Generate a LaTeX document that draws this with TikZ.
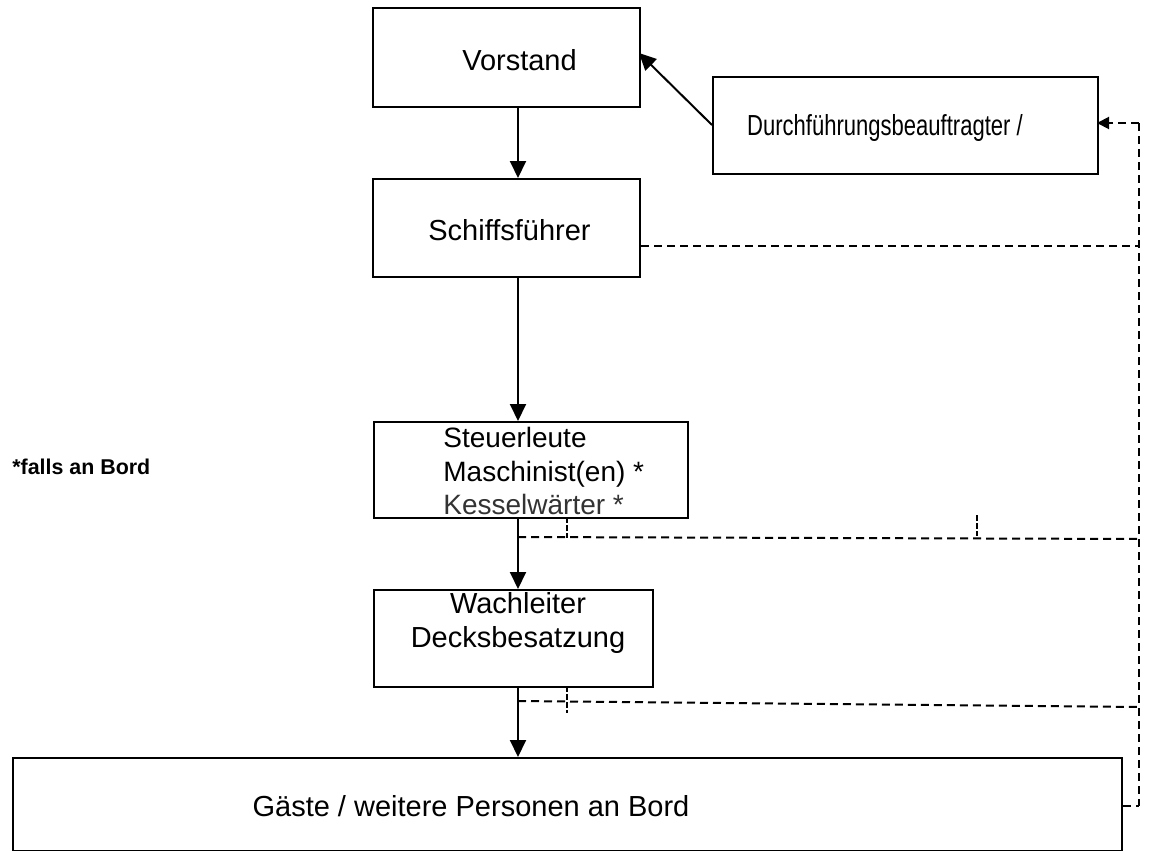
\documentclass[tikz,border=0pt]{standalone}
\usepackage{fontspec}
\setmainfont{Liberation Sans}
\usepackage{graphicx}
\usetikzlibrary{arrows.meta,calc}
\begin{document}
\begin{tikzpicture}[x=0.5pt,y=-0.5pt,
  box/.style={draw,line width=1pt,inner sep=0pt,anchor=north west},
  txt/.style={inner sep=0pt,font=\fontsize{14.5}{17}\selectfont},
  arr/.style={line width=1pt,-{Triangle[length=8.5pt,width=8pt]}},
  dsh/.style={line width=1pt,dash pattern=on 4pt off 2.5pt},
  tick/.style={line width=0.6pt,dash pattern=on 3pt off 1pt},
]
\useasboundingbox (0,0) rectangle (1152,851);

% boxes
\node[box,minimum width=133.5pt,minimum height=49.5pt] (vorstand) at (372,7) {};
\node[box,minimum width=133.5pt,minimum height=49pt] (schiff) at (372,178) {};
\node[box,minimum width=192.5pt,minimum height=48.5pt] (durch) at (712,76) {};
\node[box,minimum width=157pt,minimum height=48pt] (steuer) at (373,421) {};
\node[box,minimum width=139.5pt,minimum height=48.5pt] (wach) at (373,589) {};
\node[box,minimum width=554.5pt,minimum height=46.5pt] (gaeste) at (12,757) {};

% labels
\node[txt] (lvor) at (519.5,60) {Vorstand};
\node[txt] (lsch) at (509.5,230) {Schiffsführer};
\node[txt,anchor=base] (ldur) at (885,135) {\scalebox{0.76}[1]{Durchführungsbeauftragter /}};
\node[txt,anchor=base west,font=\fontsize{14}{16}\selectfont] (ls1) at (443,447) {Steuerleute};
\node[txt,anchor=base west,font=\fontsize{14}{16}\selectfont] (ls2) at (443,481) {Maschinist(en) *};
\node[txt,anchor=base west,font=\fontsize{14}{16}\selectfont,text=black!80] (ls3) at (443,514) {Kesselwärter *};
\node[txt,anchor=base] (lw1) at (518,613) {Wachleiter};
\node[txt,anchor=base] (lw2) at (518,647) {Decksbesatzung};
\node[txt,anchor=base] (lg) at (471,816) {Gäste / weitere Personen an Bord};
\node[inner sep=0pt,anchor=base west,font=\bfseries\fontsize{10.7}{12}\selectfont] (note) at (12,474) {*falls an Bord};

% spine and bus coordinates
\coordinate (spine) at (518,0);
\coordinate (bus) at (1139,0);
\coordinate (durIn) at (1097,123);
\coordinate (vorIn) at (639,53);
\coordinate (durOut) at (712,125);

% solid arrows
\draw[arr] (vorstand.south -| spine) -- (schiff.north -| spine);
\draw[arr] (schiff.south -| spine) -- (steuer.north -| spine);
\draw[arr] (steuer.south -| spine) -- (wach.north -| spine);
\draw[arr] (wach.south -| spine) -- (gaeste.north -| spine);
\draw[arr] (durOut) -- (vorIn);

% dashed reporting lines
\draw[dsh,-{Triangle[length=6pt,width=6pt]}] (durIn -| bus) -- (durIn);
\draw[dsh] (gaeste.east |- 0,806) -- (bus |- 0,806);
\draw[dsh] (bus |- 0,123) -- (bus |- 0,806);
\draw[dsh] (schiff.east |- 0,246) -- (bus |- 0,246);
\draw[dsh] (spine |- 0,537) -- (bus |- 0,539);
\draw[dsh] (spine |- 0,701) -- (bus |- 0,707);

% small ticks
\draw[tick] (567,517) -- (567,538);
\draw[tick] (977,515) -- (977,536);
\draw[tick] (567,686) -- (567,713);
\end{tikzpicture}
\end{document}
